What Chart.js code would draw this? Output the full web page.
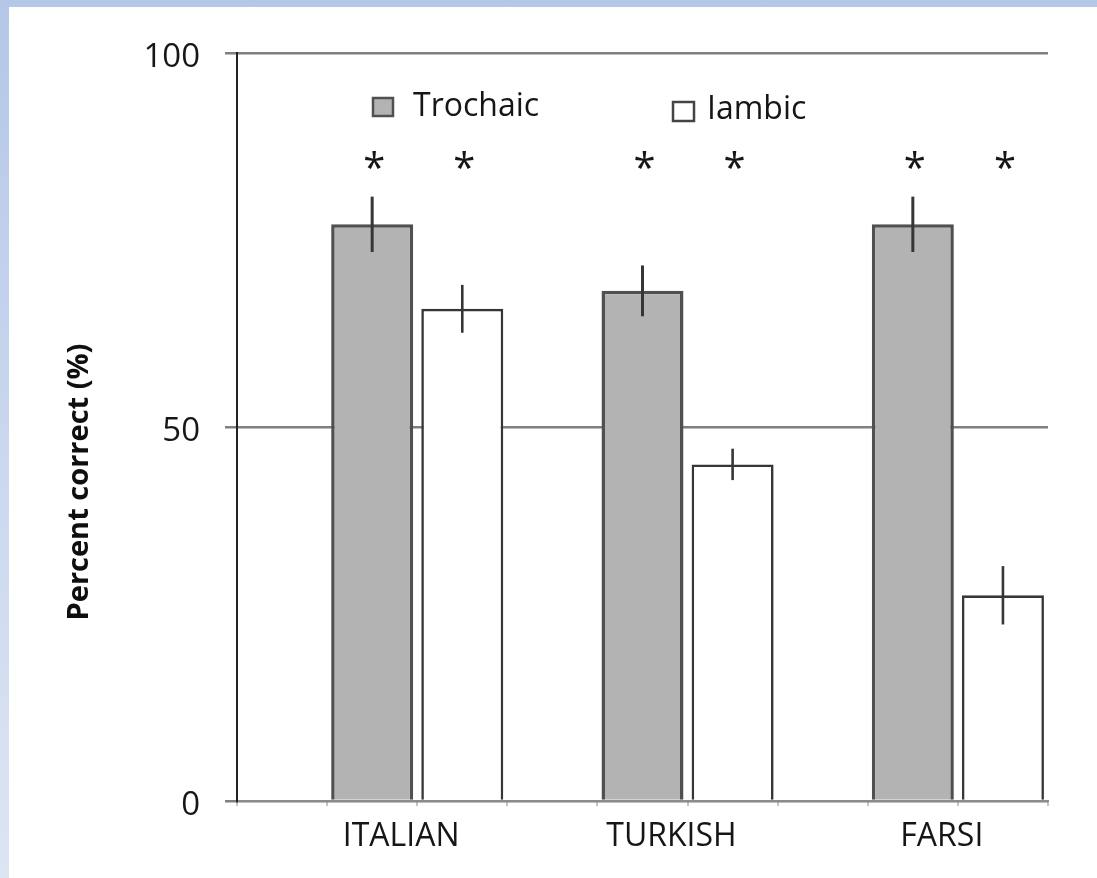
<!DOCTYPE html>
<html>
<head>
<meta charset="utf-8">
<script src="https://cdn.jsdelivr.net/npm/chart.js@4.4.1/dist/chart.umd.min.js"></script>
<style>
  html, body { margin: 0; padding: 0; }
  body {
    width: 1097px; height: 878px; overflow: hidden; position: relative;
    background: linear-gradient(to bottom, #b4c7e7 0%, #c8d5ee 45%, #dce5f4 100%);
  }
  #frame { position: absolute; left: 9px; top: 7px; width: 1088px; height: 871px; background: #ffffff; }
  canvas { display: block; }
</style>
</head>
<body>
<div id="frame"><canvas id="c" width="1088" height="871"></canvas></div>
<script>
// Percent correct per language and stress pattern
const languages   = ['ITALIAN', 'TURKISH', 'FARSI'];
const trochaic    = [77.1, 68.2, 77.1];
const iambic      = [65.8, 45.0, 27.5];
const trochaicErr = [3.7, 3.4, 3.7];
const iambicErr   = [3.2, 2.1, 3.9];
// '*' marks above each bar (significantly different from chance)
const trochaicStar = [true, true, true];
const iambicStar   = [true, true, true];
const seriesNames  = ['Trochaic', 'Iambic'];
const yTickValues  = [0, 50, 100];
const yTitle       = 'Percent correct (%)';
const starLevel    = 85.7;

// Each language takes three slots on the axis: a spacer, then trochaic, then iambic.
const slotLabels = [];
const trochaicSlots = [];
const iambicSlots = [];
languages.forEach((lang, i) => {
  slotLabels.push('', lang, '');
  trochaicSlots.push(null, trochaic[i], null);
  iambicSlots.push(null, null, iambic[i]);
});

const FONT = 'Open Sans';
const TEXT = '#161616';

const errorBars = {
  id: 'errorBars',
  afterDatasetsDraw(chart) {
    const ctx = chart.ctx, y = chart.scales.y;
    const sets = [[trochaic, trochaicErr, 3], [iambic, iambicErr, 2.6]];
    ctx.save();
    ctx.strokeStyle = '#363636';
    sets.forEach(([vals, errs, w], d) => {
      const meta = chart.getDatasetMeta(d);
      vals.forEach((v, i) => {
        const bar = meta.data[i * 3 + 1 + d];
        ctx.lineWidth = w;
        ctx.beginPath();
        ctx.moveTo(bar.x, y.getPixelForValue(v + errs[i]));
        ctx.lineTo(bar.x, y.getPixelForValue(v - errs[i]));
        ctx.stroke();
      });
    });
    ctx.restore();
  }
};

const annotations = {
  id: 'annotations',
  afterDraw(chart) {
    const ctx = chart.ctx, y = chart.scales.y;
    ctx.save();
    // significance stars
    ctx.fillStyle = TEXT;
    ctx.font = `500 40px "${FONT}"`;
    ctx.textAlign = 'center';
    ctx.textBaseline = 'alphabetic';
    const starY = y.getPixelForValue(starLevel);
    [[trochaicStar, 0], [iambicStar, 1]].forEach(([flags, d]) => {
      const meta = chart.getDatasetMeta(d);
      flags.forEach((f, i) => {
        if (!f) return;
        const bar = meta.data[i * 3 + 1 + d];
        ctx.fillText('*', bar.x + 2, starY + 22);
      });
    });
    // legend
    const items = [
      { x: 364, y: 91, w: 20, h: 18, fill: '#b3b3b3', stroke: '#505050', tx: 404, ty: 109 },
      { x: 664, y: 95, w: 21, h: 19, fill: '#ffffff', stroke: '#444444', tx: 698, ty: 112 }
    ];
    items.forEach((it, k) => {
      ctx.fillStyle = it.fill;
      ctx.fillRect(it.x, it.y, it.w, it.h);
      ctx.lineWidth = 2.5;
      ctx.strokeStyle = it.stroke;
      ctx.strokeRect(it.x, it.y, it.w, it.h);
      ctx.fillStyle = TEXT;
      ctx.font = `500 32px "${FONT}"`;
      ctx.textAlign = 'left';
      ctx.textBaseline = 'alphabetic';
      ctx.fillText(seriesNames[k], it.tx, it.ty);
    });
    // y axis title
    ctx.translate(71, 475);
    ctx.rotate(-Math.PI / 2);
    ctx.font = `bold 29px "${FONT}"`;
    ctx.fillStyle = '#0f0f0f';
    ctx.textAlign = 'center';
    ctx.textBaseline = 'middle';
    ctx.fillText(yTitle, 0, 0);
    ctx.restore();
  }
};

new Chart(document.getElementById('c'), {
  type: 'bar',
  data: {
    labels: slotLabels,
    datasets: [
      { label: seriesNames[0], data: trochaicSlots, backgroundColor: '#b3b3b3', borderColor: '#505050', borderWidth: 3.5 },
      { label: seriesNames[1], data: iambicSlots, backgroundColor: '#ffffff', borderColor: '#363636', borderWidth: 2.6 }
    ]
  },
  options: {
    responsive: false,
    animation: false,
    devicePixelRatio: 1,
    grouped: false,
    barPercentage: 0.91,
    categoryPercentage: 1.0,
    layout: { padding: { top: 46, right: 49, left: 0, bottom: 0 } },
    plugins: { legend: { display: false }, tooltip: { enabled: false } },
    scales: {
      x: {
        type: 'category',
        offset: true,
        grid: { offset: true, drawOnChartArea: false, drawTicks: true, tickLength: 5, color: '#c4c4c4', lineWidth: 2 },
        border: { color: '#8c8c8c', width: 2 },
        ticks: { autoSkip: false, maxRotation: 0, labelOffset: 29, padding: 12, color: TEXT, font: { family: FONT, size: 32, weight: '500' } },
        afterFit: s => { s.height = 77; }
      },
      y: {
        min: 0, max: 100,
        afterBuildTicks: s => { s.ticks = yTickValues.map(v => ({ value: v })); },
        ticks: { padding: 25, labelOffset: 5, color: TEXT, font: { family: FONT, size: 33, weight: '500' } },
        grid: { color: '#7f7f7f', lineWidth: 2.5, tickLength: 12, drawTicks: true },
        border: { color: '#222222', width: 2 },
        title: { display: false },
        afterFit: s => { s.width = 228; }
      }
    }
  },
  plugins: [errorBars, annotations]
});
</script>
</body>
</html>
